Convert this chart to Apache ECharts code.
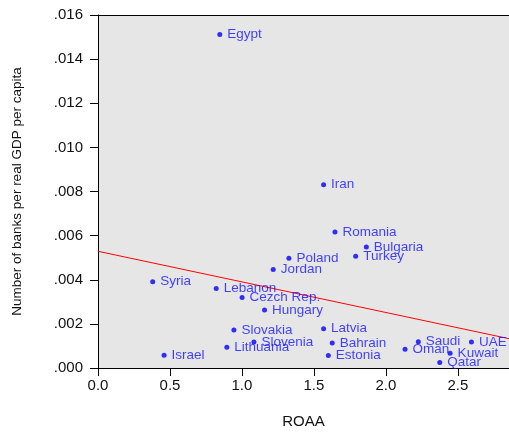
<!DOCTYPE html>
<html>
<head>
<meta charset="utf-8">
<script src="https://cdn.jsdelivr.net/npm/echarts@6/dist/echarts.min.js"></script>
<style>
  html, body { margin: 0; padding: 0; background: #fff; overflow: hidden; }
  #chart { width: 100vw; height: 100vh; }
</style>
</head>
<body>
<div id="chart"></div>
<script>
// Countries, return on average assets, and banks per real GDP per capita
const countries = ['Egypt', 'Iran', 'Romania', 'Bulgaria', 'Turkey', 'Poland', 'Jordan', 'Syria',
  'Lebanon', 'Cezch Rep.', 'Hungary', 'Slovakia', 'Slovenia', 'Lithuania', 'Israel', 'Latvia',
  'Bahrain', 'Estonia', 'Oman', 'Saudi', 'UAE', 'Kuwait', 'Qatar'];
const roaa = [0.846, 1.567, 1.646, 1.864, 1.790, 1.326, 1.217, 0.380,
  0.821, 1.001, 1.157, 0.944, 1.083, 0.895, 0.459, 1.567,
  1.627, 1.600, 2.133, 2.225, 2.594, 2.446, 2.374];
const banks = [0.01512, 0.00831, 0.00616, 0.00548, 0.00507, 0.00498, 0.00447, 0.00391,
  0.00360, 0.00320, 0.00263, 0.00172, 0.00118, 0.00094, 0.00058, 0.00178,
  0.00113, 0.00057, 0.00085, 0.00119, 0.00118, 0.00067, 0.00025];

// Fitted regression line end points
const fitX = [0, 2.855];
const fitY = [0.00529, 0.00133];

// Axis ranges
const xMin = 0, xMax = 2.855, xStep = 0.5;
const yMin = 0, yMax = 0.016, yStep = 0.002;

const FONT = '"Liberation Sans", Arial, sans-serif';

const points = countries.map((c, i) => ({ name: c, value: [roaa[i], banks[i]] }));
const fitLine = fitX.map((x, i) => [x, fitY[i]]);

const chart = echarts.init(document.getElementById('chart'), null, { renderer: 'canvas' });
chart.setOption({
  animation: false,
  backgroundColor: '#ffffff',
  grid: {
    left: 98, top: 15, right: 0, bottom: 62,
    show: true, backgroundColor: '#e6e6e6', borderWidth: 0
  },
  xAxis: [{
    type: 'value', min: xMin, max: xMax, interval: xStep,
    name: 'ROAA', nameLocation: 'middle', nameGap: 46,
    nameTextStyle: { fontFamily: FONT, fontSize: 15, color: '#111' },
    splitLine: { show: false },
    axisLine: { show: true, onZero: false, lineStyle: { color: '#000', width: 1 } },
    axisTick: { show: true, length: 8, lineStyle: { color: '#000' } },
    axisLabel: {
      fontFamily: FONT, fontSize: 15, color: '#111', margin: 10,
      showMaxLabel: false,
      formatter: v => v.toFixed(1)
    }
  }, {
    // top frame line
    type: 'value', position: 'top', min: xMin, max: xMax, interval: xStep,
    splitLine: { show: false },
    axisLine: { show: true, onZero: false, lineStyle: { color: '#000', width: 1 } },
    axisTick: { show: false },
    axisLabel: { show: false }
  }],
  yAxis: {
    type: 'value', min: yMin, max: yMax, interval: yStep,
    name: 'Number of banks per real GDP per capita', nameLocation: 'middle', nameGap: 74,
    nameTextStyle: { fontFamily: FONT, fontSize: 13.5, color: '#111' },
    splitLine: { show: false },
    axisLine: { show: true, onZero: false, lineStyle: { color: '#000', width: 1 } },
    axisTick: { show: true, length: 8, lineStyle: { color: '#000' } },
    axisLabel: {
      fontFamily: FONT, fontSize: 15, color: '#111', margin: 15,
      formatter: v => v.toFixed(3).replace(/^0/, '')
    }
  },
  series: [{
    type: 'line',
    data: fitLine,
    symbol: 'none',
    lineStyle: { color: '#ff0000', width: 1 },
    z: 2
  }, {
    type: 'scatter',
    data: points,
    symbol: 'circle',
    symbolSize: 5,
    itemStyle: { color: '#0000ff' },
    label: {
      show: true, position: 'right', distance: 5,
      formatter: p => p.name,
      fontFamily: FONT, fontSize: 13.5, color: '#1414ff'
    },
    z: 3
  }]
});
</script>
</body>
</html>
